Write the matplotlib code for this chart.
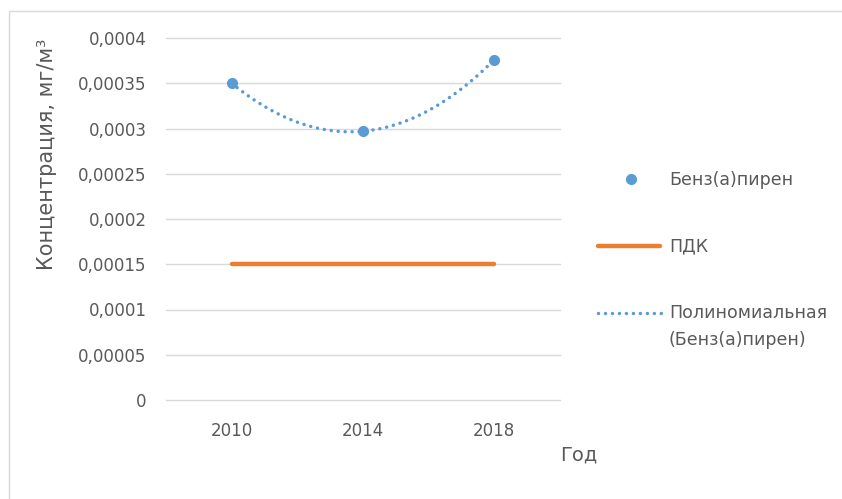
import numpy as np
import matplotlib.pyplot as plt
from matplotlib.patches import Rectangle
from matplotlib.lines import Line2D

years = ['2010', '2014', '2018']
benzapyrene = [0.00035, 0.000297, 0.000376]
pdk = [0.00015, 0.00015, 0.00015]
y_ticks = [0, 0.00005, 0.0001, 0.00015, 0.0002, 0.00025, 0.0003, 0.00035, 0.0004]
y_tick_labels = ['0', '0,00005', '0,0001', '0,00015', '0,0002',
                 '0,00025', '0,0003', '0,00035', '0,0004']

BLUE = '#5B9BD5'
ORANGE = '#ED7D31'
TEXT = '#595959'
GRID = '#D9D9D9'
DOTS = (0, (0.01, 2.0))

W, H = 842, 499
fig = plt.figure(figsize=(W / 100, H / 100), dpi=100)
fig.patch.set_facecolor('white')


def fx(px):
    return px / W


def fy(px):
    return 1 - px / H


# light chart border, cut off at the right and bottom edges
fig.patches.append(Rectangle((fx(9), -0.1), 1.2, fy(11) + 0.1,
                             transform=fig.transFigure, fill=False,
                             edgecolor=GRID, linewidth=1.0))

ax = fig.add_axes([fx(166), fy(400), (560 - 166) / W, (400 - 38) / H])

x = np.arange(1, len(years) + 1)

# second-order trendline through the measured points
coef = np.polyfit(x, benzapyrene, 2)
xs = np.linspace(x[0], x[-1], 200)
ax.plot(xs, np.polyval(coef, xs), color=BLUE, linewidth=2.5,
        linestyle=DOTS, dash_capstyle='round', zorder=3)
ax.plot(x, pdk, color=ORANGE, linewidth=3.2, solid_capstyle='round', zorder=3)
ax.plot(x, benzapyrene, linestyle='none', marker='o', markersize=7,
        color=BLUE, zorder=4)

ax.set_xlim(0.5, 3.5)
ax.set_ylim(0, 0.0004)
ax.set_xticks(x)
ax.set_xticklabels(years)
ax.set_yticks(y_ticks)
ax.set_yticklabels(y_tick_labels)
ax.tick_params(axis='both', length=0, labelsize=12, labelcolor=TEXT)
ax.tick_params(axis='x', pad=16)
ax.tick_params(axis='y', pad=14)
ax.grid(axis='y', color=GRID, linewidth=1.0)
for gl in ax.get_ygridlines():
    gl.set_clip_on(False)
ax.set_axisbelow(True)
for s in ax.spines.values():
    s.set_visible(False)

fig.text(fx(47), fy(154), 'Концентрация, мг/м³', rotation=90,
         ha='center', va='center', fontsize=15, color=TEXT)
fig.text(fx(579), fy(455), 'Год', ha='center', va='center',
         fontsize=14, color=TEXT)

# legend on the right, drawn entry by entry
fig.add_artist(Line2D([fx(631)], [fy(179)], marker='o', markersize=7,
                      color=BLUE, linestyle='none', transform=fig.transFigure))
fig.add_artist(Line2D([fx(598), fx(660)], [fy(246), fy(246)], color=ORANGE,
                      linewidth=3.2, solid_capstyle='round',
                      transform=fig.transFigure))
fig.add_artist(Line2D([fx(598), fx(662)], [fy(313), fy(313)], color=BLUE,
                      linewidth=2.5, linestyle=DOTS, dash_capstyle='round',
                      transform=fig.transFigure))
legend_labels = [('Бенз(а)пирен', 180), ('ПДК', 246),
                 ('Полиномиальная', 313), ('(Бенз(а)пирен)', 340)]
for label, py in legend_labels:
    fig.text(fx(669), fy(py), label, ha='left', va='center',
             fontsize=12.5, color=TEXT)

fig.savefig('out.png', dpi=100)
